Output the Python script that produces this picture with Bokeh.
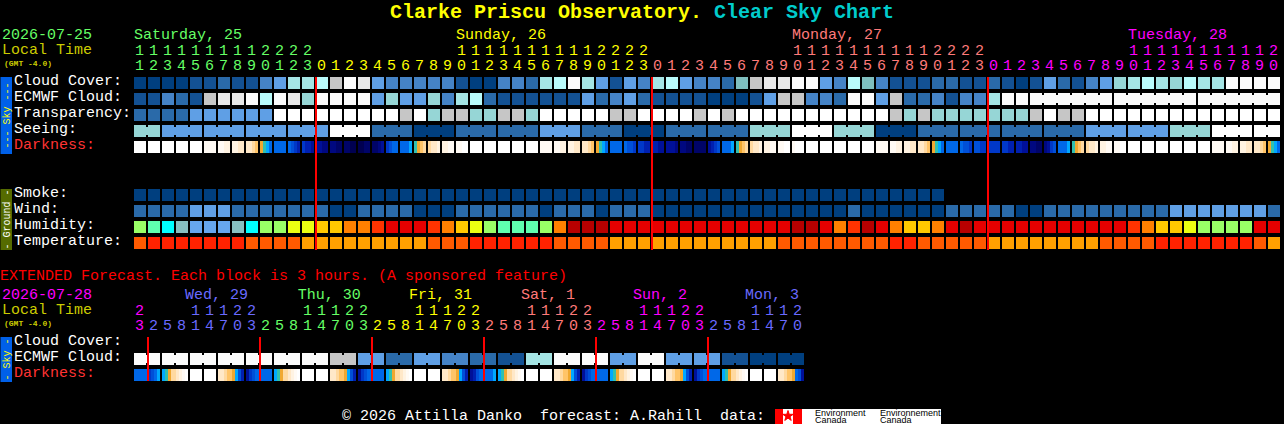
from bokeh.plotting import figure
from bokeh.models import Range1d, ColumnDataSource
from bokeh.core.properties import value
from bokeh.embed import file_html
from bokeh.resources import INLINE
import math

# ---------- data ----------
LEVELS = ["#003f7f", "#135193", "#2a6aa9", "#4583c6", "#5f9fe5", "#7fbfbf", "#96d6d6",
          "#a5e5e5", "#b9fbfb", "#c6c6c6", "#e8e8e8", "#fbfbfb", "#ffffff"]
HUMID_COLORS = ["#66a6ee", "#88c0c0", "#00ffff", "#5fffaf", "#99ff66", "#ebff12",
                "#ffc800", "#ff8000", "#ff3300", "#e50000", "#b80000"]
TEMP_COLORS = ["#ff2200", "#ff5a00", "#ffa000"]
DARK_COLORS = dict(W="#ffffff", a="#fffaf4", b="#fff3e2", c="#ffe8c8", d="#ffd9a0", e="#ffc468",
                   f="#f0a830", g="#30c0b0", h="#00a8ff", i="#0068e8", j="#0050d8", k="#0038c8",
                   l="#0020b0", m="#001098", n="#000880", o="#000468", p="#000050")

CLOUD = [0,0,0,0,1,1,2,1,1,3, 4,7,7,8,9,11,10,4,3,3, 3,3,3,1,0,0,3,3,2,7,
         8,11,7,4,1,4,3,7,8,4, 3,3,2,5,9,10,10,11,11,4, 3,8,5,3,1,1,1,2,2,1,
         1,2,1,0,1,4,2,1,3,4, 6,7,8,7,6,8,7,7,11,11, 11,11]
ECMWF = [1,1,3,2,1,9,10,10,11,8, 11,10,6,11,11,11,11,4,6,4, 4,6,3,7,8,2,1,1,1,1,
         1,1,4,2,3,4,2,1,1,1, 1,0,0,0,1,4,9,9,3,3, 2,11,11,4,9,2,2,3,1,3,
         3,7,11,11,11,11,11,11,11,11, 11,11,11,11,11,11,11,11,11,11, 11,11]
ECMWF_SPANS = [1]*64 + [6, 6, 6]
TRANSP = [2,2,2,2,4,4,4,4,4,4, 12,12,12,12,12,12,12,12,12,9, 12,6,9,9,6,6,9,9,6,12,
          12,12,12,12,9,9,12,12,12,12, 9,12,9,12,12,12,12,12,12,12, 12,12,12,12,9,6,9,6,6,6,
          6,6,6,6,9,12,9,9,12,12, 12,12,12,12,12,12,12,12,12,12, 12,12]
SEEING_SPANS = [2] + [3]*26 + [2]
SEEING_VALUES = [6, 4,4,4,4,12,2,0,2,2,4,2,0,2,2,6,12,6,0,2,2,2,2,4,4,6,12, 12]
SMOKE = [0]*58
WIND = [2,2,2,2,4,4,4,2,2,2, 2,2,2,2,0,0,2,2,2,2, 0,0,0,2,2,2,2,2,2,0,
        2,2,2,0,2,2,2,0,0,0, 0,0,0,0,0,0,0,0,0,0, 0,2,0,0,0,0,0,0,2,2,
        2,2,2,0,0,2,2,2,2,2, 2,2,2,2,4,4,4,4,4,4, 4,2]
HUMID = [4,3,2,1,0,0,0,1,2,4, 4,5,5,6,6,7,7,8,9,9, 9,8,7,6,5,4,3,3,3,4,
         7,10,10,10,9,9,9,9,9,9, 9,9,9,9,9,9,9,10,10,9, 7,8,10,9,7,6,6,7,9,10,
         9,9,9,9,9,9,9,9,9,9, 9,8,7,6,6,5,4,4,4,4, 9,9]
TEMP = [1,0,0,0,0,0,0,0,1,1, 1,1,2,2,2,2,2,2,2,2, 2,1,1,1,0,0,0,0,0,0,
        1,1,1,1,2,2,2,2,2,2, 2,2,2,2,2,2,1,1,1,1, 1,1,1,1,0,0,1,1,1,1,
        1,2,2,2,2,2,2,2,2,1, 1,1,1,0,0,0,0,0,0,0, 1,2]
DARK = ["WWWW","WWWW","WWWW","WWWW","WWWW","aaaa","aabb","bbcc","ccde","fghi",
        "iiii","ijkl","kllm","mmnn","nnoo","oopp","ppoo","oonm","kjii","iiih",
        "gfed","dccb","bbaa","aaWW","WWWW","WWWW","WWWW","WWWW","WWWW","aaaa",
        "aabb","bbcc","ccde","fghi","iiii","ijjk","kkll","llmm","mmmn","nnoo",
        "oooo","mlkj","iiih","gfed","dccb","bbaa","aaWW","aWWW","WWWW","WWWW",
        "WWWW","WWWW","WWWW","aaaa","aabb","bbcc","ccde","fghi","iiii","ijjk",
        "jjkk","kkkk","kkll","llmm","nnoo","nmkj","iiih","gfed","dccb","bbaa",
        "aaWW","WWWW","WWWW","WWWW","WWWW","WWWW","WWWW","aaaa","aabb","bbcc",
        "ccde","fghi"]
MAIN_HOURS = [11,12,13,14,15,16,17,18,19,20,21,22,23] + list(range(24))*2 + list(range(21))
MAIN_DAY_SPANS = [13, 24, 24, 21]
MAIN_DAY_COLORS = ["#66ff66", "#ffff00", "#ff7a7a", "#ff00ff"]
MAIN_DAYS = [(0, "Saturday, 25", "#66ff66"), (23, "Sunday, 26", "#ffff00"),
             (47, "Monday, 27", "#ff7a7a"), (71, "Tuesday, 28", "#ff00ff")]
MAIN_MIDNIGHTS = [13, 37, 61]

EXT_ECMWF_GROUPS = [11,11,11,11,11,11,11,9,4,2,4,3,2,1,7,11,11,4,11,4,4,1,0,0]
EXT_DARK = ["iiii","kjih","hgfd","cbaW","WWWW","WWWW","ccde","fhjl",
            "mkji","iiii","hgfd","cbaW","WWWW","WWWW","ccde","fhjl",
            "mkji","iiii","hgfd","cbaW","WWWW","WWWW","ccde","fhjl",
            "mlji","iiih","hgfd","cbaW","WWWW","WWWW","ccde","fhjl",
            "mkji","iiii","hgfd","cbaW","WWWW","WWWW","ccde","fhjl",
            "mkji","iiii","hgfd","cbaW","WWWW","WWWW","ccde","fijm"]
EXT_HOURS = [23] + [2,5,8,11,14,17,20,23]*5 + [2,5,8,11,14,17,20]
EXT_DAY_SPANS = [1, 8, 8, 8, 8, 8, 7]
EXT_DAY_COLORS = ["#ff00ff", "#6a6aff", "#66ff66", "#ffff00", "#ff7a7a", "#ff00ff", "#6a6aff"]
EXT_DAYS = [(3.65, "Wed, 29", "#6a6aff"), (11.7, "Thu, 30", "#66ff66"), (19.65, "Fri, 31", "#ffff00"),
            (27.65, "Sat, 1", "#ff7a7a"), (35.65, "Sun, 2", "#ff00ff"), (43.65, "Mon, 3", "#6a6aff")]
EXT_MIDNIGHTS = [1, 9, 17, 25, 33, 41]

for a in (CLOUD, ECMWF, TRANSP, WIND, HUMID, TEMP, DARK, MAIN_HOURS):
    assert len(a) == 82, len(a)
assert len(EXT_DARK) == 48 and len(EXT_HOURS) == 48

# ---------- layout ----------
FONT = "Liberation Mono"
X0, PITCH, CELL = 134, 14, 12
ROW = dict(cloud=77, ecmwf=93, transp=109, seeing=125, dark=141,
           smoke=189, wind=205, humid=221, temp=237,
           xecmwf=353, xdark=369)

p = figure(width=1284, height=424, x_range=Range1d(0.5, 1284.5), y_range=Range1d(424.5, 0.5),
           x_axis_type=None, y_axis_type=None, toolbar_location=None, output_backend="svg",
           min_border=0, background_fill_color="#000000", border_fill_color="#000000",
           outline_line_color=None, margin=(0, 0, 0, 0), styles={"background-color": "#000000"})
p.grid.visible = False

def cx(i):
    return X0 + PITCH * i

def quads(l, r, t, b, c):
    p.quad(source=ColumnDataSource(dict(left=l, right=r, top=t, bottom=b, fill_color=c)),
           left="left", right="right", top="top", bottom="bottom",
           fill_color="fill_color", line_color=None)

def row(vals, y, palette):
    quads([cx(i) for i in range(len(vals))], [cx(i) + CELL for i in range(len(vals))],
          [y]*len(vals), [y + CELL]*len(vals), [palette[v] for v in vals])

def necks(vals, spans, y, palette):
    l, c, start = [], [], 0
    for s in spans:
        for j in range(start, start + s - 1):
            l.append(cx(j) + CELL)
            c.append(palette[vals[j]])
        start += s
    quads(l, [x + 2 for x in l], [y + 2]*len(l), [y + 10]*len(l), c)

def dark_row(cells, y, link_pairs=False):
    l, r, c = [], [], []
    for i, s in enumerate(cells):
        for j, ch in enumerate(s):
            if j and ch == s[j - 1]:
                continue
            l.append(cx(i) + 3*j)
            r.append(cx(i) + CELL)
            c.append(DARK_COLORS[ch])
    quads(l, r, [y]*len(l), [y + CELL]*len(l), c)
    if link_pairs:
        l2, c2 = [], []
        for i in range(0, len(cells) - 1, 2):
            if cells[i] != "WWWW" or cells[i+1] != "WWWW":
                l2.append(cx(i) + CELL)
                c2.append(DARK_COLORS[cells[i][-1]])
        quads(l2, [x + 2 for x in l2], [y]*len(l2), [y + CELL]*len(l2), c2)

def text(x, y, s, color, size=15, bold=False, align="left", angle=0, font=FONT):
    dy = 0.3 * size if angle == 0 else 0
    p.text(x=[x], y=[y - dy], text=[s], text_color=color, text_font=value(font),
           text_font_size=f"{size}px", text_font_style="bold" if bold else "normal",
           text_align=align, text_baseline="alphabetic", angle=angle)

def expand(spans, vals):
    out = []
    for s, v in zip(spans, vals):
        out += [v]*s
    return out

# ---------- main grid ----------
row(CLOUD, ROW["cloud"], LEVELS)
row(ECMWF, ROW["ecmwf"], LEVELS)
necks(ECMWF, ECMWF_SPANS, ROW["ecmwf"], LEVELS)
row(TRANSP, ROW["transp"], LEVELS)
seeing = expand(SEEING_SPANS, SEEING_VALUES)
row(seeing, ROW["seeing"], LEVELS)
necks(seeing, SEEING_SPANS, ROW["seeing"], LEVELS)
dark_row(DARK, ROW["dark"])
row(SMOKE, ROW["smoke"], LEVELS)
row(WIND, ROW["wind"], LEVELS)
row(HUMID, ROW["humid"], HUMID_COLORS)
row(TEMP, ROW["temp"], TEMP_COLORS)

# ---------- extended grid ----------
ext_ecmwf = expand([2]*24, EXT_ECMWF_GROUPS)
row(ext_ecmwf, ROW["xecmwf"], LEVELS)
necks(ext_ecmwf, [2]*24, ROW["xecmwf"], LEVELS)
dark_row(EXT_DARK, ROW["xdark"], link_pairs=True)

# ---------- midnight lines ----------
ml = [cx(m) - 1 for m in MAIN_MIDNIGHTS]
quads(ml, [x + 2 for x in ml], [77]*3, [250]*3, ["#ff0000"]*3)
el = [cx(m) - 1 for m in EXT_MIDNIGHTS]
quads(el, [x + 2 for x in el], [337]*6, [381]*6, ["#ff0000"]*6)

# ---------- side bars ----------
quads([0, 0, 0], [12, 12, 12], [77, 189, 337], [154, 250, 382], ["#0060e8", "#556b00", "#0060e8"])
text(7, 115.5, "--- Sky ---", "#ffff00", size=10, align="center", angle=math.pi/2)
text(7, 219.5, "- Ground -", "#ffffff", size=10, align="center", angle=math.pi/2)
text(7, 359.5, "- Sky -", "#ffff00", size=10, align="center", angle=math.pi/2)

# ---------- texts ----------
text(390, 18.5, "Clarke Priscu Observatory.", "#ffff00", size=20, bold=True)
text(714, 18.5, "Clear Sky Chart", "#00cccc", size=20, bold=True)

def header(date, date_color, ydate, hours, spans, colors, days, y_tens, y_units):
    text(2, ydate - 1.5, date, date_color)
    text(2, ydate + 15, "Local Time", "#cccc00")
    text(4, ydate + 26, "(GMT -4.0)", "#cccc00", size=8, bold=True)
    cols = expand(spans, colors)
    for i, h in enumerate(hours):
        xc = cx(i) + 5.5
        if h >= 10:
            text(xc, y_tens - 1, str(h // 10), cols[i], align="center")
        text(xc, y_units - 1, str(h % 10), cols[i], align="center")
    for c, s, col in days:
        text(cx(c), ydate, s, col)

header("2026-07-25", "#66ff66", 40, MAIN_HOURS, MAIN_DAY_SPANS, MAIN_DAY_COLORS, MAIN_DAYS, 55, 70)
header("2026-07-28", "#ff00ff", 300, EXT_HOURS, EXT_DAY_SPANS, EXT_DAY_COLORS, EXT_DAYS, 315, 330)
text(0, 281, "EXTENDED Forecast. Each block is 3 hours. (A sponsored feature)", "#ff0000")

MAIN_LABELS = [("Cloud Cover:", 86, "#ffffff"), ("ECMWF Cloud:", 102, "#ffffff"),
               ("Transparency:", 118, "#ffffff"), ("Seeing:", 134, "#ffffff"),
               ("Darkness:", 150, "#ff3333"), ("Smoke:", 198, "#ffffff"), ("Wind:", 214, "#ffffff"),
               ("Humidity:", 230, "#ffffff"), ("Temperature:", 246, "#ffffff"),
               ("Cloud Cover:", 346, "#ffffff"), ("ECMWF Cloud:", 362, "#ffffff"),
               ("Darkness:", 378, "#ff3333")]
for s, y, c in MAIN_LABELS:
    text(14, y, s, c)

# ---------- footer ----------
text(342, 421, "\u00a9 2026 Attilla Danko", "#ffffff")
text(540, 421, "forecast: A.Rahill", "#ffffff")
text(720, 421, "data:", "#ffffff")
quads([775, 802], [802, 941], [409, 409], [424, 424], ["#ffffff", "#ffffff"])
quads([775, 793], [783, 802], [409, 409], [424, 424], ["#ff0000", "#ff0000"])
p.scatter(x=[788], y=[416], marker="star", size=11, fill_color="#ff0000", line_color="#ff0000")
for x, y, s in [(815, 416, "Environment"), (815, 423, "Canada"), (880, 416, "Environnement"), (880, 423, "Canada")]:
    text(x, y, s, "#000000", size=9, font="Liberation Sans")

open("out.html", "w").write(file_html(p, INLINE))
